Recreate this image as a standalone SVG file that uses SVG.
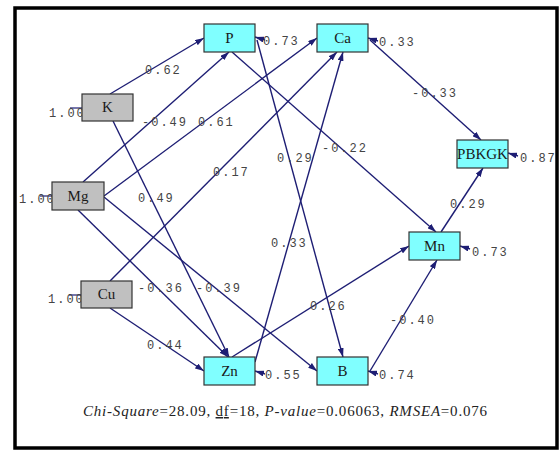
<svg xmlns="http://www.w3.org/2000/svg" width="560" height="452" viewBox="0 0 560 452">
  <defs>
    <marker id="arr" markerUnits="userSpaceOnUse" markerWidth="9" markerHeight="6" refX="9" refY="3" orient="auto">
      <path d="M0,0 L9,3 L0,6 z" fill="#1e1e74"/>
    </marker>
    <style>
      .frame { fill: #ffffff; stroke: #000000; stroke-width: 3.5; }
      .obs { fill: #80ffff; stroke: #333333; stroke-width: 1.2; }
      .exo { fill: #c0c0c0; stroke: #333333; stroke-width: 1.2; }
      .name { font-family: "Liberation Serif", "Times New Roman", serif; font-size: 15px; fill: #1a1a1a; text-anchor: middle; }
      .edge { stroke: #1e1e74; stroke-width: 1.4; fill: none; marker-end: url(#arr); }
      .tick { stroke: #1e1e74; stroke-width: 1.2; fill: none; }
      .val { font-family: "Liberation Mono", "Courier New", monospace; font-size: 12px; letter-spacing: 2px; fill: #444444; }
      .cap { font-family: "Liberation Serif", "Times New Roman", serif; font-size: 15px; fill: #222222; }
    </style>
  </defs>

  <rect x="0" y="0" width="560" height="452" fill="#ffffff"/>
  <rect class="frame" x="15" y="8" width="542" height="440"/>

  <!-- path coefficients -->
  <g id="connectors">
    <line class="edge" x1="110" y1="94" x2="204" y2="38"/>
    <line class="edge" x1="113" y1="121" x2="229" y2="357"/>
    <line class="edge" x1="83" y1="182" x2="229" y2="52"/>
    <line class="edge" x1="104" y1="196" x2="317" y2="38"/>
    <line class="edge" x1="78" y1="210" x2="228" y2="357"/>
    <line class="edge" x1="104" y1="197" x2="317" y2="371"/>
    <line class="edge" x1="110" y1="281" x2="337" y2="52"/>
    <line class="edge" x1="110" y1="308" x2="204" y2="371"/>
    <line class="edge" x1="255" y1="362" x2="343" y2="52"/>
    <line class="edge" x1="232" y1="357" x2="409" y2="246"/>
    <line class="edge" x1="257" y1="40" x2="343" y2="357"/>
    <line class="edge" x1="232" y1="52" x2="436" y2="232"/>
    <line class="edge" x1="370" y1="40" x2="481" y2="140"/>
    <line class="edge" x1="441" y1="232" x2="483" y2="168"/>
    <line class="edge" x1="370" y1="371" x2="437" y2="260"/>

    <!-- error terms -->
    <line class="edge" x1="265" y1="40" x2="255" y2="37"/>
    <line class="edge" x1="378" y1="41" x2="368" y2="38"/>
    <line class="edge" x1="518" y1="156" x2="508" y2="153"/>
    <line class="edge" x1="470" y1="249" x2="460" y2="246"/>
    <line class="edge" x1="265" y1="374" x2="255" y2="371"/>
    <line class="edge" x1="378" y1="374" x2="368" y2="371"/>

    <!-- variances -->
    <line class="tick" x1="70" y1="108" x2="82" y2="108"/>
    <line class="tick" x1="40" y1="196" x2="52" y2="196"/>
    <line class="tick" x1="69" y1="295" x2="81" y2="295"/>
  </g>

  <g id="labels">
    <text class="val" x="145" y="74">0.62</text>
    <text class="val" x="142" y="126">-0.49</text>
    <text class="val" x="198" y="126">0.61</text>
    <text class="val" x="213" y="176">0.17</text>
    <text class="val" x="138" y="202">0.49</text>
    <text class="val" x="138" y="292">-0.36</text>
    <text class="val" x="196" y="292">-0.39</text>
    <text class="val" x="147" y="349">0.44</text>
    <text class="val" x="277" y="162">0.29</text>
    <text class="val" x="322" y="152">-0.22</text>
    <text class="val" x="271" y="247">0.33</text>
    <text class="val" x="310" y="310">0.26</text>
    <text class="val" x="412" y="97">-0.33</text>
    <text class="val" x="450" y="208">0.29</text>
    <text class="val" x="390" y="324">-0.40</text>

    <text class="val" x="263" y="45">0.73</text>
    <text class="val" x="379" y="46">0.33</text>
    <text class="val" x="520" y="162">0.87</text>
    <text class="val" x="472" y="256">0.73</text>
    <text class="val" x="265" y="379">0.55</text>
    <text class="val" x="379" y="379">0.74</text>

    <text class="val" x="49" y="117">1.00</text>
    <text class="val" x="19" y="203">1.00</text>
    <text class="val" x="48" y="303">1.00</text>
  </g>

  <g id="node-K">
    <rect class="exo" x="82" y="94" width="51" height="27"/>
    <text class="name" x="107.5" y="112">K</text>
  </g>
  <g id="node-Mg">
    <rect class="exo" x="52" y="182" width="52" height="28"/>
    <text class="name" x="78" y="201">Mg</text>
  </g>
  <g id="node-Cu">
    <rect class="exo" x="81" y="281" width="51" height="27"/>
    <text class="name" x="106.5" y="299">Cu</text>
  </g>
  <g id="node-P">
    <rect class="obs" x="204" y="24" width="51" height="28"/>
    <text class="name" x="229.5" y="43">P</text>
  </g>
  <g id="node-Ca">
    <rect class="obs" x="317" y="24" width="51" height="28"/>
    <text class="name" x="342.5" y="43">Ca</text>
  </g>
  <g id="node-PBKGK">
    <rect class="obs" x="457" y="140" width="51" height="28"/>
    <text class="name" x="482.5" y="159">PBKGK</text>
  </g>
  <g id="node-Mn">
    <rect class="obs" x="409" y="232" width="51" height="28"/>
    <text class="name" x="434.5" y="251">Mn</text>
  </g>
  <g id="node-Zn">
    <rect class="obs" x="204" y="357" width="51" height="28"/>
    <text class="name" x="229.5" y="376">Zn</text>
  </g>
  <g id="node-B">
    <rect class="obs" x="317" y="357" width="51" height="28"/>
    <text class="name" x="342.5" y="376">B</text>
  </g>

  <!-- fit statistics -->
  <g id="fit">
    <text class="cap" x="83" y="416" textLength="404" lengthAdjust="spacing"><tspan font-style="italic">Chi-Square</tspan>=28.09, <tspan text-decoration="underline">df</tspan>=18, <tspan font-style="italic">P-value</tspan>=0.06063, <tspan font-style="italic">RMSEA</tspan>=0.076</text>
  </g>
</svg>
